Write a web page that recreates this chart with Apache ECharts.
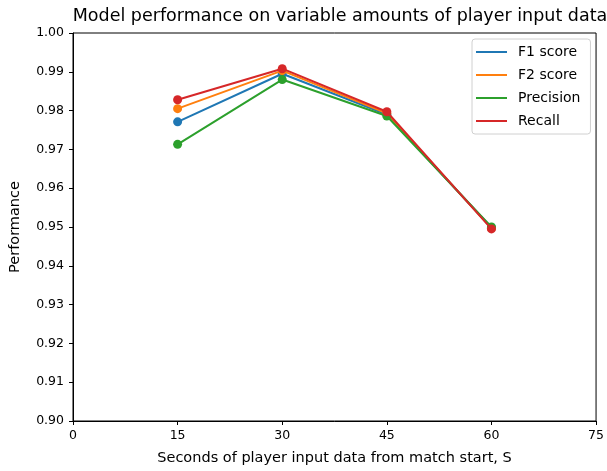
<!DOCTYPE html>
<html><head><meta charset="utf-8">
<script src="https://cdn.jsdelivr.net/npm/echarts@6/dist/echarts.min.js"></script>
<style>html,body{margin:0;padding:0;background:#fff}#c{width:607px;height:471px}</style>
</head><body><div id="c"></div>
<script>
const xValues = [15, 30, 45, 60];
const seriesNames = ['F1 score', 'F2 score', 'Precision', 'Recall'];
const f1 = [0.9771, 0.9895, 0.9790, 0.9498];
const f2 = [0.9805, 0.9903, 0.9793, 0.9497];
const precision = [0.9713, 0.9880, 0.9786, 0.9500];
const recall = [0.9828, 0.9908, 0.9797, 0.9495];
const colors = ['#1f77b4', '#ff7f0e', '#2ca02c', '#d62728'];
const allData = [f1, f2, precision, recall];

const font = 'DejaVu Sans';
const chart = echarts.init(document.getElementById('c'), null, {renderer: 'canvas'});
chart.setOption({
  animation: false,
  backgroundColor: '#fff',
  title: {
    text: 'Model performance on variable amounts of player input data',
    left: 335, top: 2, textAlign: 'center',
    textStyle: {fontFamily: font, fontSize: 17.5, fontWeight: 'normal', color: '#000'}
  },
  legend: {
    orient: 'vertical', left: 472, top: 39,
    data: seriesNames,
    icon: 'rect', itemWidth: 31, itemHeight: 2, itemGap: 9,
    padding: [6, 10, 6, 4],
    borderColor: '#d0d0d0', borderWidth: 1, borderRadius: 3,
    textStyle: {fontFamily: font, fontSize: 14, color: '#000', padding: [0, 0, 0, 6]}
  },
  grid: {left: 73, right: 10, top: 33, bottom: 48, show: true, borderColor: '#000', borderWidth: 1, backgroundColor: 'transparent'},
  xAxis: {
    type: 'value', min: 0, max: 75, interval: 15,
    name: 'Seconds of player input data from match start, S',
    nameLocation: 'middle', nameGap: 30,
    nameTextStyle: {fontFamily: font, fontSize: 14.5, color: '#000'},
    axisLine: {show: true, lineStyle: {color: '#000'}},
    axisTick: {show: true, inside: false, length: 4, lineStyle: {color: '#000'}},
    axisLabel: {fontFamily: font, fontSize: 12.5, color: '#000', margin: 8},
    splitLine: {show: false}
  },
  yAxis: {
    type: 'value', min: 0.9, max: 1.0, interval: 0.01,
    name: 'Performance', nameLocation: 'middle', nameGap: 50,
    nameTextStyle: {fontFamily: font, fontSize: 14.5, color: '#000'},
    axisLine: {show: true, lineStyle: {color: '#000'}},
    axisTick: {show: true, inside: false, length: 4, lineStyle: {color: '#000'}},
    axisLabel: {fontFamily: font, fontSize: 12.5, color: '#000', margin: 9, formatter: v => v.toFixed(2)},
    splitLine: {show: false}
  },
  series: seriesNames.map((n, i) => ({
    name: n, type: 'line',
    data: xValues.map((x, j) => [x, allData[i][j]]),
    symbol: 'circle', symbolSize: 9,
    lineStyle: {width: 2, color: colors[i]},
    itemStyle: {color: colors[i]},
    z: 2 + i
  }))
});
</script></body></html>
